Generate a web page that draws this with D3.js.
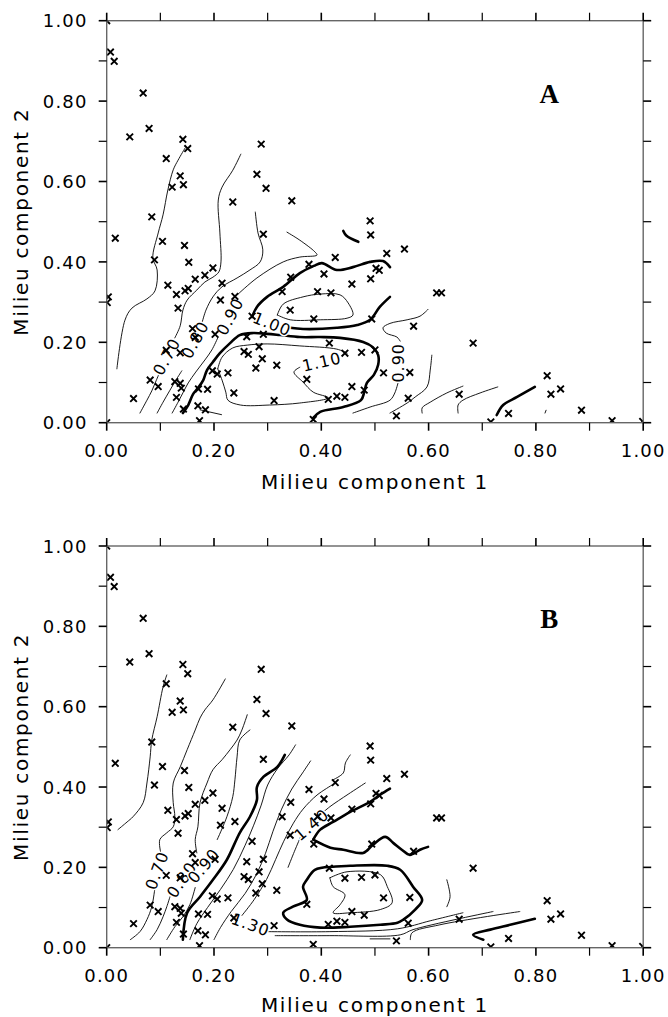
<!DOCTYPE html>
<html><head><meta charset="utf-8">
<script src="https://cdn.jsdelivr.net/npm/d3@7"></script>
<style>body{margin:0;background:#fff;} svg{display:block;}</style>
</head><body><svg id="c" width="668" height="1017"></svg>
<script>
// ---------- data ----------
const tickValues = [0, 0.2, 0.4, 0.6, 0.8, 1.0];
const minorTickValues = [0.1, 0.3, 0.5, 0.7, 0.9];
const tickLabels = ["0.00", "0.20", "0.40", "0.60", "0.80", "1.00"];
const xTitle = "Milieu component 1";
const yTitle = "Milieu component 2";
const panelNames = ["A", "B"];

const siteX = [0.007,0.014,0.068,0.079,0.043,0.142,0.151,0.111,0.137,0.143,0.122,0.288,0.280,0.297,0.235,0.345,0.084,0.016,0.292,0.491,0.492,0.104,0.145,0.089,0.153,0.198,0.183,0.165,0.114,0.215,0.152,0.146,0.130,0.239,0.212,0.003,0.001,0.133,0.271,0.160,0.165,0.202,0.261,0.292,0.284,0.256,0.264,0.290,0.278,0.317,0.137,0.111,0.197,0.206,0.226,0.081,0.096,0.127,0.137,0.139,0.130,0.050,0.171,0.188,0.237,0.143,0.170,0.184,0.173,0.312,0.373,0.385,0.413,0.429,0.444,0.415,0.343,0.327,0.342,0.377,0.405,0.426,0.393,0.418,0.386,0.522,0.555,0.457,0.492,0.502,0.508,0.494,0.615,0.624,0.572,0.444,0.475,0.500,0.516,0.565,0.457,0.480,0.562,0.540,0.683,0.657,0.716,0.749,0.821,0.828,0.846,0.885,0.942,0.999,0.000,0.000];
const siteY = [0.922,0.899,0.820,0.732,0.711,0.705,0.682,0.657,0.614,0.592,0.586,0.693,0.618,0.583,0.549,0.552,0.512,0.459,0.469,0.502,0.467,0.451,0.441,0.405,0.399,0.385,0.367,0.357,0.342,0.347,0.334,0.328,0.319,0.314,0.305,0.313,0.299,0.285,0.265,0.234,0.212,0.220,0.214,0.220,0.189,0.177,0.170,0.159,0.136,0.143,0.174,0.180,0.129,0.121,0.124,0.106,0.090,0.102,0.098,0.086,0.063,0.060,0.084,0.083,0.074,0.034,0.042,0.032,0.005,0.055,0.108,0.008,0.058,0.066,0.063,0.198,0.362,0.326,0.280,0.394,0.370,0.411,0.326,0.323,0.258,0.421,0.432,0.345,0.358,0.384,0.379,0.258,0.323,0.323,0.240,0.173,0.175,0.181,0.124,0.125,0.090,0.081,0.061,0.017,0.198,0.071,0.002,0.023,0.117,0.071,0.084,0.031,0.005,0.003,1.000,0.000];

// Panel A contour lines (data units)
const a060 = [[0.019,0.134],[0.034,0.255],[0.047,0.285],[0.075,0.308],[0.090,0.328],[0.094,0.380],[0.086,0.410],[0.096,0.472],[0.105,0.517],[0.114,0.579],[0.124,0.629],[0.133,0.653],[0.146,0.683]];
const a070lo = [[0.062,0.024],[0.075,0.056],[0.084,0.079],[0.092,0.104],[0.099,0.126]];
const a070hi = [[0.127,0.211],[0.137,0.241],[0.142,0.280],[0.150,0.305],[0.168,0.330],[0.183,0.350],[0.198,0.362],[0.209,0.375],[0.213,0.400],[0.211,0.472],[0.208,0.554],[0.215,0.586],[0.235,0.628],[0.250,0.668]];
const a080lo = [[0.094,0.024],[0.105,0.051],[0.118,0.081],[0.129,0.106],[0.140,0.129]];
const a080hi = [[0.178,0.250],[0.185,0.280],[0.198,0.313],[0.215,0.338],[0.243,0.360],[0.267,0.380],[0.286,0.400],[0.291,0.430],[0.282,0.472],[0.277,0.524]];
const a090lo = [[0.122,0.024],[0.133,0.051],[0.142,0.074],[0.152,0.099],[0.166,0.126],[0.183,0.156],[0.196,0.181],[0.207,0.211]];
const a090hi = [[0.245,0.320],[0.280,0.360],[0.329,0.400],[0.360,0.412],[0.392,0.417],[0.388,0.425],[0.360,0.454],[0.336,0.474]];
const a100lo = [[0.142,0.024],[0.152,0.044],[0.161,0.071],[0.170,0.086],[0.180,0.106],[0.187,0.131],[0.198,0.151],[0.211,0.173],[0.230,0.198],[0.248,0.218],[0.273,0.223],[0.299,0.221],[0.323,0.218],[0.360,0.213],[0.398,0.213],[0.435,0.211],[0.478,0.201],[0.496,0.188],[0.506,0.168],[0.506,0.144],[0.498,0.119],[0.485,0.099],[0.480,0.076],[0.474,0.056],[0.441,0.039],[0.398,0.027],[0.385,0.012]];
const a100up = [[0.271,0.263],[0.280,0.288],[0.299,0.313],[0.329,0.338],[0.360,0.372],[0.386,0.390],[0.401,0.397],[0.429,0.380],[0.459,0.387],[0.491,0.400],[0.515,0.402],[0.528,0.387]];
const a100mid = [[0.342,0.236],[0.366,0.233],[0.429,0.236],[0.467,0.243],[0.491,0.256],[0.509,0.288],[0.528,0.313]];
const a100top = [[0.441,0.477],[0.447,0.465],[0.469,0.450]];
const a110loop = [[0.318,0.268],[0.329,0.295],[0.366,0.313],[0.398,0.320],[0.435,0.318],[0.450,0.298],[0.459,0.268],[0.448,0.260],[0.398,0.256],[0.342,0.256],[0.318,0.268]];
const a110a = [[0.207,0.134],[0.215,0.163],[0.235,0.186],[0.262,0.193],[0.299,0.196],[0.360,0.191],[0.429,0.183],[0.448,0.173]];
const a110b = [[0.360,0.138],[0.349,0.126],[0.366,0.101],[0.385,0.076],[0.413,0.062],[0.360,0.049],[0.304,0.044],[0.249,0.044],[0.226,0.056],[0.222,0.076],[0.215,0.106],[0.207,0.134]];
const a090r1 = [[0.599,0.282],[0.584,0.265],[0.560,0.256],[0.528,0.247],[0.515,0.236],[0.521,0.223],[0.541,0.213],[0.547,0.203]];
const a090r2 = [[0.543,0.099],[0.537,0.074],[0.528,0.056],[0.491,0.039],[0.459,0.024]];
const a080r = [[0.606,0.168],[0.603,0.131],[0.597,0.089],[0.575,0.064],[0.560,0.049],[0.528,0.024]];
const a070r = [[0.664,0.091],[0.634,0.074],[0.603,0.051],[0.588,0.037],[0.588,0.024]];
const a060r = [[0.729,0.089],[0.696,0.074],[0.664,0.056],[0.655,0.044],[0.655,0.024]];
const a100r = [[0.727,0.019],[0.739,0.044],[0.765,0.064],[0.798,0.089]];
const aTiny = [[0.817,0.024],[0.819,0.031]];
const aShort = [[0.174,0.032],[0.214,0.020]];

const aLabelText = ["0.70","0.80","0.90","1.00","1.10","0.90"];
const aLabelPos = [[0.112,0.164],[0.165,0.206],[0.230,0.264],[0.308,0.245],[0.401,0.151],[0.543,0.149]];
const aLabelAngle = [-62,-62,-62,22,-13,-90];

// Panel B contour lines (data units)
const b060 = [[0.021,0.294],[0.038,0.313],[0.049,0.326],[0.068,0.361],[0.075,0.410],[0.081,0.475],[0.084,0.517],[0.094,0.575],[0.105,0.649],[0.112,0.679]];
const b070lo = [[0.044,0.020],[0.062,0.040],[0.075,0.070],[0.084,0.102],[0.090,0.150]];
const b070hi = [[0.101,0.235],[0.099,0.269],[0.112,0.286],[0.124,0.301],[0.127,0.326],[0.124,0.361],[0.124,0.410],[0.137,0.450],[0.150,0.493],[0.165,0.542],[0.174,0.572],[0.183,0.592],[0.198,0.617],[0.221,0.669]];
const b080lo = [[0.081,0.020],[0.094,0.045],[0.105,0.077],[0.112,0.102],[0.118,0.127]];
const b080hi = [[0.168,0.236],[0.165,0.269],[0.170,0.301],[0.174,0.361],[0.187,0.410],[0.198,0.443],[0.215,0.468],[0.230,0.493],[0.243,0.517],[0.252,0.542],[0.262,0.580]];
const b090lo = [[0.112,0.020],[0.127,0.052],[0.142,0.077],[0.155,0.107],[0.165,0.150]];
const b090hi = [[0.206,0.269],[0.224,0.326],[0.235,0.376],[0.239,0.418],[0.243,0.475],[0.248,0.517],[0.267,0.542]];
const b100 = [[0.142,0.020],[0.150,0.087],[0.174,0.127],[0.198,0.169],[0.224,0.219],[0.248,0.286],[0.267,0.326],[0.280,0.368],[0.280,0.400],[0.292,0.425],[0.318,0.450],[0.332,0.480]];
const b110 = [[0.155,0.020],[0.168,0.060],[0.188,0.100],[0.212,0.145],[0.236,0.195],[0.258,0.255],[0.274,0.305],[0.288,0.355],[0.300,0.405],[0.318,0.445],[0.340,0.480],[0.352,0.505]];
const b120 = [[0.200,0.020],[0.212,0.050],[0.232,0.090],[0.258,0.135],[0.280,0.185],[0.296,0.235],[0.310,0.290],[0.326,0.345],[0.345,0.395],[0.365,0.435],[0.380,0.465]];
const b130 = [[0.252,0.080],[0.275,0.120],[0.298,0.170],[0.315,0.220],[0.330,0.265],[0.348,0.310],[0.366,0.345],[0.392,0.380],[0.420,0.405]];
const b140lo = [[0.338,0.200],[0.350,0.240],[0.362,0.278]];
const b140hi = [[0.400,0.333],[0.416,0.351],[0.450,0.382],[0.482,0.410]];
const bBoldUp = [[0.385,0.269],[0.398,0.294],[0.422,0.313],[0.454,0.338],[0.491,0.363],[0.510,0.381],[0.528,0.396]];
const bBoldMid = [[0.385,0.269],[0.417,0.249],[0.441,0.244],[0.478,0.236],[0.496,0.256],[0.519,0.276],[0.534,0.261],[0.550,0.244],[0.565,0.231],[0.584,0.244],[0.599,0.251]];
const bBoldLoop = [[0.416,0.201],[0.454,0.204],[0.523,0.204],[0.547,0.194],[0.571,0.152],[0.588,0.119],[0.575,0.095],[0.553,0.070],[0.542,0.062],[0.510,0.057],[0.454,0.052],[0.398,0.050],[0.360,0.057],[0.336,0.070],[0.329,0.087],[0.347,0.102],[0.373,0.119],[0.366,0.152],[0.373,0.169],[0.388,0.194],[0.416,0.201]];
const bInnerLoop = [[0.416,0.174],[0.448,0.189],[0.510,0.182],[0.523,0.152],[0.532,0.112],[0.510,0.095],[0.454,0.087],[0.422,0.087],[0.435,0.107],[0.444,0.132],[0.422,0.152],[0.416,0.174]];
const bT1 = [[0.300,0.040],[0.416,0.040],[0.542,0.047],[0.603,0.067],[0.664,0.087]];
const bT2 = [[0.314,0.030],[0.416,0.030],[0.547,0.032],[0.571,0.045],[0.720,0.090]];
const bT3 = [[0.566,0.020],[0.569,0.037],[0.621,0.057],[0.770,0.090]];
const bBoldR = [[0.702,0.020],[0.683,0.032],[0.715,0.045],[0.752,0.057],[0.798,0.072]];
const bShort = [[0.491,0.022],[0.528,0.022]];
const bArc = [[0.634,0.169],[0.640,0.127],[0.634,0.102]];
const bTop2 = [[0.454,0.480],[0.445,0.460],[0.441,0.435],[0.422,0.418]];

const bLabelText = ["0.70","0.80","0.90","1.30","1.40"];
const bLabelPos = [[0.094,0.192],[0.140,0.169],[0.181,0.204],[0.268,0.057],[0.382,0.306]];
const bLabelAngle = [-70,-56,-50,20,-40];

// ---------- layout ----------
const svg = d3.select("#c");
const X0 = 106.7, X1 = 643.2;
const panels = [
  {top: 20.7, bottom: 422.7, name: panelNames[0], titleGap: 66,
   lines: [[a060,0],[a070lo,0],[a070hi,0],[a080lo,0],[a080hi,0],[a090lo,0],[a090hi,0],[a100lo,1],[a100up,1],[a100mid,1],[a100top,1],[a110loop,0],[a110a,0],[a110b,0],[a090r1,0],[a090r2,0],[a080r,0],[a070r,0],[a060r,0],[a100r,1],[aTiny,0],[aShort,0]],
   labText: aLabelText, labPos: aLabelPos, labAng: aLabelAngle},
  {top: 546.0, bottom: 947.7, name: panelNames[1], titleGap: 64.5,
   lines: [[b060,0],[b070lo,0],[b070hi,0],[b080lo,0],[b080hi,0],[b090lo,0],[b090hi,0],[b100,1],[b110,0],[b120,0],[b130,0],[b140lo,0],[b140hi,0],[bBoldUp,1],[bBoldMid,1],[bBoldLoop,1],[bInnerLoop,0],[bT1,0],[bT2,0],[bT3,0],[bBoldR,1],[bShort,0],[bArc,0],[bTop2,0]],
   labText: bLabelText, labPos: bLabelPos, labAng: bLabelAngle}
];

const FONT = "'DejaVu Sans', Verdana, sans-serif";

panels.forEach((p, pi) => {
  const x = d3.scaleLinear().domain([0, 1]).range([X0, X1]);
  const y = d3.scaleLinear().domain([0, 1]).range([p.bottom, p.top]);
  const g = svg.append("g");
  const clipId = "clip" + pi;
  svg.append("clipPath").attr("id", clipId).append("rect")
    .attr("x", X0).attr("y", p.top).attr("width", X1 - X0).attr("height", p.bottom - p.top);

  // contours
  const line = d3.line().x(d => x(d[0])).y(d => y(d[1])).curve(d3.curveCatmullRom.alpha(0.5));
  const cg = g.append("g").attr("clip-path", `url(#${clipId})`);
  cg.selectAll("path").data(p.lines).join("path")
    .attr("d", d => line(d[0]))
    .attr("fill", "none")
    .attr("stroke", "#000")
    .attr("stroke-width", d => d[1] ? 2.6 : 0.9)
    .attr("stroke-linejoin", "round").attr("stroke-linecap", "round");

  // contour labels (white halo breaks the line)
  const lab = g.selectAll("g.cl").data(p.labText).join("g").attr("class", "cl")
    .attr("transform", (d, i) => `translate(${x(p.labPos[i][0])},${y(p.labPos[i][1])}) rotate(${p.labAng[i]})`);
  lab.append("text")
    .attr("text-anchor", "middle").attr("dominant-baseline", "central")
    .attr("font-family", FONT).attr("font-size", 16).attr("letter-spacing", 1)
    .attr("stroke", "#fff").attr("stroke-width", 3).attr("fill", "#fff")
    .text(d => d);
  lab.append("text")
    .attr("text-anchor", "middle").attr("dominant-baseline", "central")
    .attr("font-family", FONT).attr("font-size", 16).attr("letter-spacing", 1)
    .text(d => d);

  // markers
  const mg = g.append("g").attr("clip-path", `url(#${clipId})`);
  const s = 3.3;
  siteX.forEach((sx, i) => {
    if (i >= siteY.length) return;
    const cx = x(sx), cy = y(siteY[i]);
    mg.append("path")
      .attr("d", `M${cx - s},${cy - s}L${cx + s},${cy + s}M${cx - s},${cy + s}L${cx + s},${cy - s}`)
      .attr("stroke", "#000").attr("stroke-width", 1.9).attr("fill", "none");
  });

  // frame
  g.append("rect").attr("x", X0).attr("y", p.top).attr("width", X1 - X0).attr("height", p.bottom - p.top)
    .attr("fill", "none").attr("stroke", "#666").attr("stroke-width", 1.4);

  // ticks (outward on all four sides)
  const TL = 8;
  const allTicks = tickValues.map(v => [v, 1]).concat(minorTickValues.map(v => [v, 0]));
  const tg = g.append("g").attr("stroke", "#000");
  allTicks.forEach(([v, major]) => {
    const w = major ? 1.6 : 1.2;
    tg.append("line").attr("x1", x(v)).attr("x2", x(v)).attr("y1", p.bottom).attr("y2", p.bottom + TL).attr("stroke-width", w);
    tg.append("line").attr("x1", x(v)).attr("x2", x(v)).attr("y1", p.top).attr("y2", p.top - TL).attr("stroke-width", w);
    tg.append("line").attr("y1", y(v)).attr("y2", y(v)).attr("x1", X0).attr("x2", X0 - TL).attr("stroke-width", w);
    tg.append("line").attr("y1", y(v)).attr("y2", y(v)).attr("x1", X1).attr("x2", X1 + TL).attr("stroke-width", w);
  });

  // tick labels
  g.selectAll("text.xl").data(tickValues).join("text").attr("class", "xl")
    .attr("x", d => x(d)).attr("y", p.bottom + 34.5)
    .attr("text-anchor", "middle").attr("font-family", FONT).attr("font-size", 18).attr("letter-spacing", 1.2)
    .text((d, i) => tickLabels[i]);
  g.selectAll("text.yl").data(tickValues).join("text").attr("class", "yl")
    .attr("x", X0 - 19).attr("y", d => y(d) + 6.6)
    .attr("text-anchor", "end").attr("font-family", FONT).attr("font-size", 18).attr("letter-spacing", 1.2)
    .text((d, i) => tickLabels[i]);

  // axis titles
  g.append("text").attr("x", (X0 + X1) / 2).attr("y", p.bottom + p.titleGap)
    .attr("text-anchor", "middle").attr("font-family", FONT).attr("font-size", 20).attr("letter-spacing", 1.7)
    .text(xTitle);
  g.append("text").attr("transform", `translate(28,${(p.top + p.bottom) / 2}) rotate(-90)`)
    .attr("text-anchor", "middle").attr("font-family", FONT).attr("font-size", 20).attr("letter-spacing", 1.7)
    .text(yTitle);

  // panel letter
  g.append("text").attr("x", x(0.825)).attr("y", y(0.795))
    .attr("text-anchor", "middle").attr("font-family", "'Liberation Serif', 'Times New Roman', serif")
    .attr("font-weight", "bold").attr("font-size", 27).text(p.name);
});
</script>
</body></html>
